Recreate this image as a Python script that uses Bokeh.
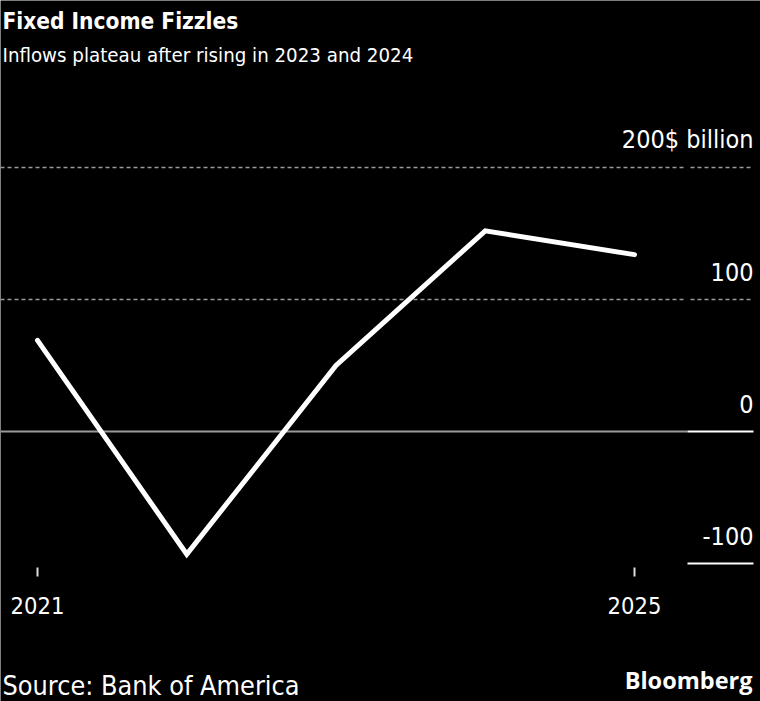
from bokeh.plotting import figure
from bokeh.models import Label, ColumnDataSource
from bokeh.core.properties import value
from bokeh.embed import file_html
from bokeh.resources import INLINE

# ---- data ----
years = [2021, 2022, 2023, 2024, 2025]
inflows = [69, -93, 50, 152, 134]          # $ billion
y_ticks = [200, 100, 0, -100]
y_tick_labels = ["200$ billion", "100", "0", "-100"]
x_ticks = [2021, 2025]
x_tick_labels = ["2021", "2025"]

title = "Fixed Income Fizzles"
subtitle = "Inflows plateau after rising in 2023 and 2024"
source = "Source: Bank of America"
brand = "Bloomberg"

# ---- layout (pixel geometry of the canvas) ----
W, H = 760, 701
X0_PX, PX_PER_YEAR = 37, 149.25      # 2021 at pixel 37
Y0_PX, PX_PER_UNIT = 431, 1.32       # value 0 at pixel 431
FONT = "DejaVu Sans Condensed"
FIX = 9                               # baseline correction of svg text (px)

x_start = years[0] - X0_PX / PX_PER_YEAR
x_end = x_start + W / PX_PER_YEAR
y_end = Y0_PX / PX_PER_UNIT
y_start = y_end - H / PX_PER_UNIT


def xd(px):
    return x_start + px / PX_PER_YEAR


def sy(baseline_px):
    # screen y (from bottom) for a text baseline given from the top
    return H - (baseline_px - FIX)


p = figure(width=W, height=H, output_backend="svg", toolbar_location=None,
           x_range=(x_start, x_end), y_range=(y_start, y_end),
           min_border=0, background_fill_color="black",
           border_fill_color="black", outline_line_color=None)
p.axis.visible = False
p.grid.visible = False

# dashed gridlines (200, 100)
grid_vals = [v for v in y_ticks if v > 0]
p.segment(x0=[xd(0)] * len(grid_vals), x1=[xd(686)] * len(grid_vals),
          y0=grid_vals, y1=grid_vals, line_color="#9a9a9a", line_width=1.5,
          line_dash="4 3")
p.segment(x0=[xd(690)] * len(grid_vals), x1=[xd(753)] * len(grid_vals),
          y0=grid_vals, y1=grid_vals, line_color="#9a9a9a", line_width=1.5,
          line_dash="4 3")

# zero line in plot area
p.segment(x0=[xd(0)], x1=[xd(687)], y0=[0], y1=[0],
          line_color="#9a9a9a", line_width=2)
# axis tick lines at 0 and -100 on the right
low_vals = [v for v in y_ticks if v <= 0]
p.segment(x0=[xd(687)] * len(low_vals), x1=[xd(753)] * len(low_vals),
          y0=low_vals, y1=low_vals, line_color="white", line_width=2)

# y tick labels, right aligned above each line
p.text(x=[xd(753)] * len(y_ticks), y=y_ticks, text=y_tick_labels,
       text_color="white", text_font=value(FONT), text_font_size="25px",
       text_align="right", text_baseline="alphabetic", y_offset=-19 - FIX)

# x tick marks and labels
tick_top = y_start + (H - 567) / PX_PER_UNIT
tick_bot = y_start + (H - 576) / PX_PER_UNIT
p.segment(x0=x_ticks, x1=x_ticks, y0=[tick_top] * 2, y1=[tick_bot] * 2,
          line_color="#dddddd", line_width=2)
p.text(x=x_ticks, y=[tick_bot] * 2, text=x_tick_labels, text_color="white",
       text_font=value(FONT), text_font_size="23.5px", text_align="center",
       text_baseline="alphabetic", y_offset=38 - FIX)

# data line
src = ColumnDataSource(dict(year=years, inflow=inflows))
p.line(x="year", y="inflow", source=src, line_color="white", line_width=5,
       line_cap="round", line_join="miter")

# titles / footer
p.add_layout(Label(x=2, y=sy(29), x_units="screen", y_units="screen", text=title,
                   text_font=FONT, text_font_style="bold", text_font_size="22.5px",
                   text_color="white", text_baseline="alphabetic"))
p.add_layout(Label(x=2, y=sy(63), x_units="screen", y_units="screen", text=subtitle,
                   text_font=FONT, text_font_size="20.3px",
                   text_color="white", text_baseline="alphabetic"))
p.add_layout(Label(x=2, y=sy(694), x_units="screen", y_units="screen", text=source,
                   text_font=FONT, text_font_size="26.8px",
                   text_color="white", text_baseline="alphabetic"))
p.add_layout(Label(x=752, y=sy(688), x_units="screen", y_units="screen", text=brand,
                   text_font="Open Sans", text_font_style="bold", text_font_size="23.5px",
                   text_color="white", text_align="right", text_baseline="alphabetic"))

open("out.html", "w").write(file_html(p, INLINE))
